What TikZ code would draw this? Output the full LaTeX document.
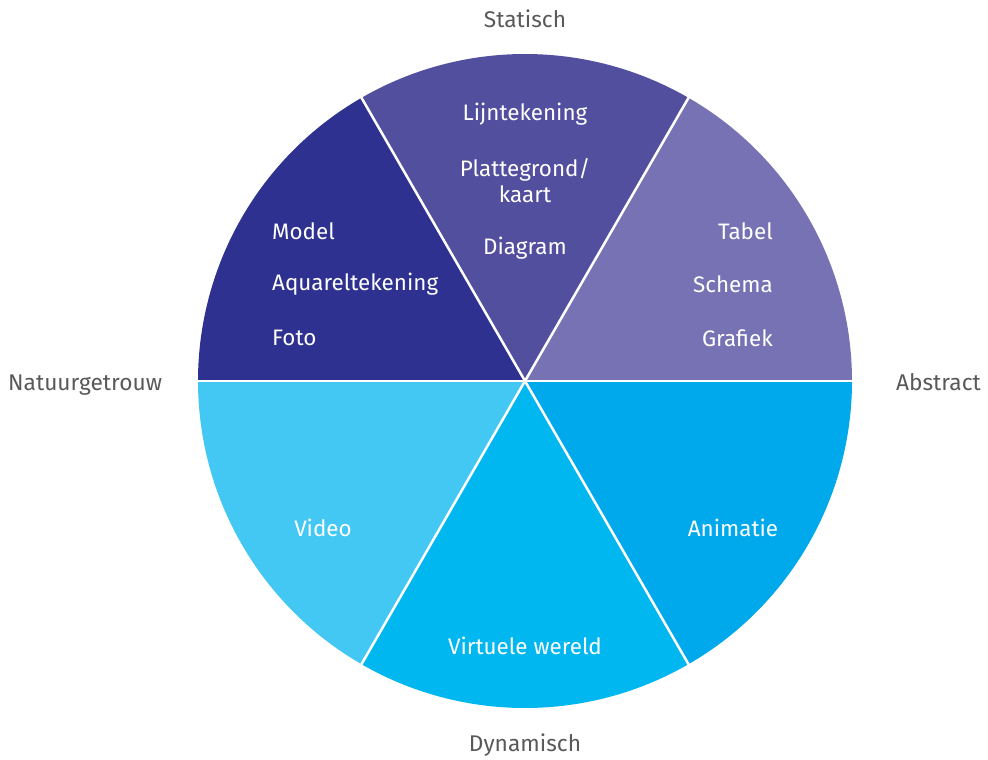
\documentclass[tikz,border=0pt]{standalone}
\usepackage{fontspec}
\setmainfont{Fira Sans}
\begin{document}
\begin{tikzpicture}[x=1bp,y=-1bp,
  seg/.style={draw=white,line width=2.5bp,line join=round},
  lab/.style={text=white,font=\fontsize{22.5}{27}\selectfont,inner sep=0pt},
  axis/.style={text=black!65,font=\fontsize{22.8}{27}\selectfont,inner sep=0pt}]
\definecolor{cA}{HTML}{2E3190}
\definecolor{cB}{HTML}{524F9F}
\definecolor{cC}{HTML}{7672B3}
\definecolor{cD}{HTML}{00A9EB}
\definecolor{cE}{HTML}{00B7EF}
\definecolor{cF}{HTML}{43C8F4}
\useasboundingbox (0,0) rectangle (988,760);
\coordinate (c) at (525,381);
\def\R{327}
\fill[cC] (c) -- +(0:\R) arc[start angle=0,end angle=-60,radius=\R] -- cycle;
\fill[cB] (c) -- +(-60:\R) arc[start angle=-60,end angle=-120,radius=\R] -- cycle;
\fill[cA] (c) -- +(-120:\R) arc[start angle=-120,end angle=-180,radius=\R] -- cycle;
\fill[cF] (c) -- +(180:\R) arc[start angle=180,end angle=120,radius=\R] -- cycle;
\fill[cE] (c) -- +(120:\R) arc[start angle=120,end angle=60,radius=\R] -- cycle;
\fill[cD] (c) -- +(60:\R) arc[start angle=60,end angle=0,radius=\R] -- cycle;
\foreach \a in {0,60,120,180,240,300} \draw[seg] (c) -- +(\a:\R+2);
% segment labels
\node[lab] (l1) at (525,114) {Lijntekening};
\node[lab,align=center] (l2) at (525,181) {Plattegrond/\\[-1bp]kaart};
\node[lab] (l3) at (525,248) {Diagram};
\node[lab,anchor=west] (m1) at (272,231) {Model};
\node[lab,anchor=west] (m2) at (272,284) {Aquareltekening};
\node[lab,anchor=west] (m3) at (272,338) {Foto};
\node[lab,anchor=east] (t1) at (773,231) {Tabel};
\node[lab,anchor=east] (t2) at (773,284) {Schema};
\node[lab,anchor=east] (t3) at (773,338) {Grafiek};
\node[lab] (v1) at (323,528) {Video};
\node[lab] (v2) at (733,528) {Animatie};
\node[lab] (v3) at (525,646) {Virtuele wereld};
% axis labels
\node[axis] (s) at (525,19) {Statisch};
\node[axis] (d) at (525,745) {Dynamisch};
\node[axis,anchor=base west] (n) at (8,390) {Natuurgetrouw};
\node[axis,anchor=base east] (a) at (981,390) {Abstract};
\end{tikzpicture}
\end{document}
